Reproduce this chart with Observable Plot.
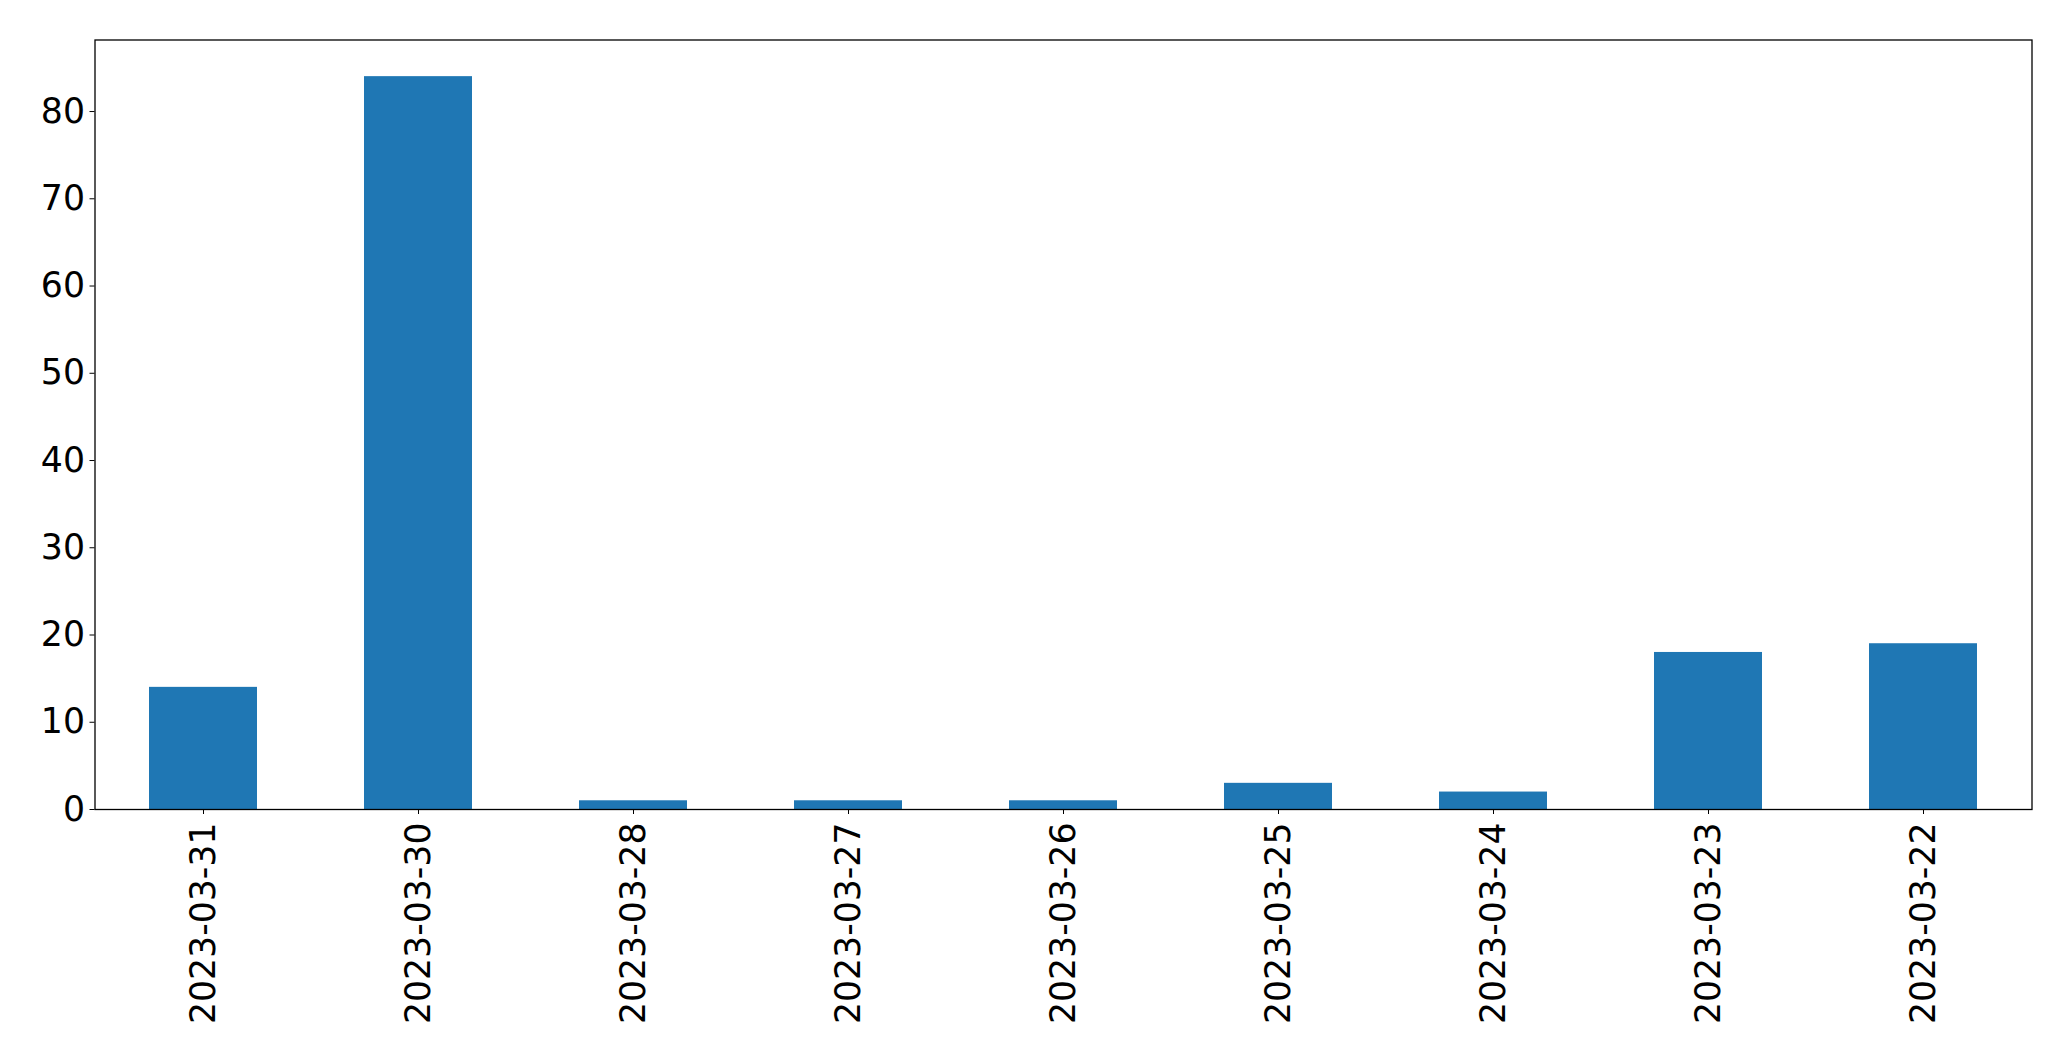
<!DOCTYPE html>
<html>
<head>
<meta charset="utf-8">
<script src="https://cdn.jsdelivr.net/npm/d3@7"></script>
<script src="https://cdn.jsdelivr.net/npm/@observablehq/plot@0.6"></script>
<style>
  html, body { margin: 0; padding: 0; background: #fff; }
  svg { display: block; }
</style>
</head>
<body>
<div id="chart"></div>
<script>
const dates = ["2023-03-31", "2023-03-30", "2023-03-28", "2023-03-27", "2023-03-26", "2023-03-25", "2023-03-24", "2023-03-23", "2023-03-22"];
const counts = [14, 84, 1, 1, 1, 3, 2, 18, 19];
const yTicks = [0, 10, 20, 30, 40, 50, 60, 70, 80];

const data = dates.map((d, i) => ({date: d, count: counts[i]}));

const chart = Plot.plot({
  width: 2071,
  height: 1061,
  marginLeft: 94.5,
  marginRight: 39.5,
  marginTop: 39.5,
  marginBottom: 252,
  style: {fontFamily: "DejaVu Sans", fontSize: "34.7px", color: "#000", background: "#fff"},
  x: {domain: dates, paddingInner: 0.5, paddingOuter: 0.25, label: null},
  y: {domain: [0, 88.2], label: null},
  marks: [
    Plot.barY(data, {x: "date", y: "count", fill: "#1f77b4"}),
    Plot.axisY({ticks: yTicks, tickSize: 5, tickPadding: 5, label: null, fontSize: 34.7, stroke: "#000"}),
    Plot.axisX({tickSize: 5, tickPadding: 8, tickRotate: -90, label: null, fontSize: 34.7, stroke: "#000"}),
    Plot.frame({stroke: "#000", strokeWidth: 1.3})
  ]
});
document.getElementById("chart").appendChild(chart);
</script>
</body>
</html>
